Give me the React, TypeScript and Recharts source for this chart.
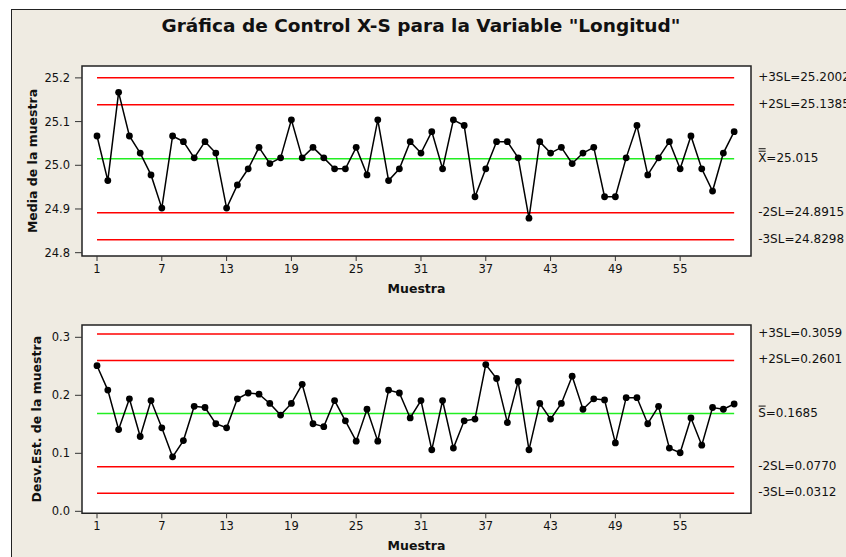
import { LineChart, Line, XAxis, YAxis, ReferenceLine, ReferenceArea, CartesianGrid } from 'recharts';

const MUESTRA = Array.from({ length: 60 }, (_, i) => i + 1);

const MEDIAS = [
  25.067, 24.965, 25.167, 25.067, 25.028, 24.978, 24.902, 25.067, 25.054, 25.017,
  25.054, 25.028, 24.902, 24.955, 24.992, 25.041, 25.004, 25.017, 25.104, 25.017,
  25.041, 25.017, 24.992, 24.992, 25.041, 24.978, 25.104, 24.965, 24.992, 25.054,
  25.028, 25.077, 24.992, 25.104, 25.091, 24.928, 24.992, 25.054, 25.054, 25.017,
  24.879, 25.054, 25.028, 25.041, 25.004, 25.028, 25.041, 24.928, 24.928, 25.017,
  25.091, 24.978, 25.017, 25.054, 24.992, 25.067, 24.992, 24.941, 25.028, 25.077,
];

const DESV = [
  0.251, 0.209, 0.141, 0.194, 0.129, 0.191, 0.144, 0.094, 0.122, 0.181,
  0.179, 0.151, 0.144, 0.194, 0.204, 0.202, 0.186, 0.166, 0.186, 0.219,
  0.151, 0.146, 0.191, 0.156, 0.121, 0.176, 0.121, 0.209, 0.204, 0.161,
  0.191, 0.106, 0.191, 0.109, 0.156, 0.159, 0.253, 0.229, 0.153, 0.224,
  0.106, 0.186, 0.159, 0.186, 0.233, 0.176, 0.194, 0.192, 0.118, 0.196,
  0.196, 0.151, 0.181, 0.109, 0.101, 0.161, 0.114, 0.179, 0.176, 0.185,
];

const X_TICKS = [1, 7, 13, 19, 25, 31, 37, 43, 49, 55];
const MEDIA_TICKS = [24.8, 24.9, 25.0, 25.1, 25.2];
const DESV_TICKS = [0.0, 0.1, 0.2, 0.3];

const MEDIA_LIMITS = [
  { name: '+3SL', value: 25.2002, text: '+3SL=25.2002' },
  { name: '+2SL', value: 25.1385, text: '+2SL=25.1385' },
  { name: 'CL', value: 25.015, text: 'X=25.015' },
  { name: '-2SL', value: 24.8915, text: '-2SL=24.8915' },
  { name: '-3SL', value: 24.8298, text: '-3SL=24.8298' },
];

const DESV_LIMITS = [
  { name: '+3SL', value: 0.3059, text: '+3SL=0.3059' },
  { name: '+2SL', value: 0.2601, text: '+2SL=0.2601' },
  { name: 'CL', value: 0.1685, text: 'S=0.1685' },
  { name: '-2SL', value: 0.077, text: '-2SL=0.0770' },
  { name: '-3SL', value: 0.0312, text: '-3SL=0.0312' },
];

const X_DOMAIN: [number, number] = [-0.39, 61.56];
const FONT = '"DejaVu Sans", Verdana, sans-serif';
const RED = '#ff0000';
const GREEN = '#22ee22';

// etiqueta a la derecha de cada límite (con barra sobre X / S en la línea central)
function LimitLabel({ viewBox, text, bars }: any) {
  if (!viewBox) return null;
  const x = viewBox.x + viewBox.width + 24;
  const y = viewBox.y - 1;
  return (
    <g>
      <text x={x} y={y} dominantBaseline="central" fontFamily={FONT} fontSize={12} fill="#111">
        {text}
      </text>
      {bars >= 1 && <line x1={x + 0.5} x2={x + 7.5} y1={y - 6.5} y2={y - 6.5} stroke="#111" strokeWidth={1} />}
      {bars >= 2 && <line x1={x + 0.5} x2={x + 7.5} y1={y - 9} y2={y - 9} stroke="#111" strokeWidth={1} />}
    </g>
  );
}

function YTitle({ viewBox, value, cx }: any) {
  if (!viewBox) return null;
  const y = viewBox.y + viewBox.height / 2;
  return (
    <text
      x={cx}
      y={y}
      transform={`rotate(-90 ${cx} ${y})`}
      textAnchor="middle"
      dominantBaseline="central"
      fontFamily={FONT}
      fontSize={12.5}
      fontWeight="bold"
      fill="#111"
    >
      {value}
    </text>
  );
}

function ControlChart({ values, limits, ticks, domain, yLabel, titleX, bars, height, xAxisHeight }: any) {
  const data = MUESTRA.map((m, i) => ({ m, v: values[i] }));
  return (
    <LineChart width={846} height={height} data={data} margin={{ top: 66, right: 95, left: 0, bottom: 0 }}>
      <CartesianGrid horizontal={false} vertical={false} fill="#fff" fillOpacity={1} />
      <XAxis
        dataKey="m"
        type="number"
        domain={X_DOMAIN}
        ticks={X_TICKS}
        interval={0}
        allowDataOverflow
        axisLine={false}
        tickSize={5}
        tickMargin={4}
        tickLine={{ stroke: '#333' }}
        tick={{ fontFamily: FONT, fontSize: 11.5, fill: '#111' }}
        height={xAxisHeight}
        label={{
          value: 'Muestra',
          position: 'insideBottom',
          offset: 7,
          style: { fontFamily: FONT, fontSize: 12.5, fontWeight: 'bold', fill: '#111' },
        }}
      />
      <YAxis
        type="number"
        domain={domain}
        ticks={ticks}
        allowDataOverflow
        width={82}
        axisLine={false}
        tickSize={7}
        tickMargin={5}
        tickLine={{ stroke: '#333' }}
        tickFormatter={(v: number) => v.toFixed(1)}
        tick={{ fontFamily: FONT, fontSize: 11.5, fill: '#111' }}
        label={<YTitle value={yLabel} cx={titleX} />}
      />
      <ReferenceArea
        x1={X_DOMAIN[0]}
        x2={X_DOMAIN[1]}
        y1={domain[0]}
        y2={domain[1]}
        fill="none"
        stroke="#222"
        strokeWidth={1.5}
        ifOverflow="visible"
      />
      {limits.map((l: any) => (
        <ReferenceLine
          key={l.name}
          segment={[{ x: 1, y: l.value }, { x: 60, y: l.value }]}
          stroke={l.name === 'CL' ? GREEN : RED}
          strokeWidth={1.5}
          ifOverflow="visible"
          label={<LimitLabel text={l.text} bars={l.name === 'CL' ? bars : 0} />}
        />
      ))}
      <Line
        type="linear"
        dataKey="v"
        stroke="#000"
        strokeWidth={1.5}
        dot={{ r: 3.4, fill: '#000', stroke: '#000', strokeWidth: 0 }}
        isAnimationActive={false}
      />
    </LineChart>
  );
}

export default function App() {
  return (
    <div style={{ position: 'absolute', left: 0, top: 0, width: 846, height: 557, background: '#fff', overflow: 'hidden' }}>
      <div
        style={{
          position: 'absolute',
          left: 11,
          top: 9,
          width: 860,
          height: 570,
          background: '#efebe2',
          borderLeft: '1.5px solid #222',
          borderTop: '1.5px solid #222',
        }}
      />
      <div
        style={{
          position: 'absolute',
          left: 0,
          top: 14,
          width: 842,
          textAlign: 'center',
          fontFamily: FONT,
          fontSize: 18.5,
          fontWeight: 'bold',
          color: '#111',
          lineHeight: '24px',
        }}
      >
        Gráfica de Control X-S para la Variable "Longitud"
      </div>
      <div style={{ position: 'absolute', left: 0, top: 0 }}>
        <ControlChart
          values={MEDIAS}
          limits={MEDIA_LIMITS}
          ticks={MEDIA_TICKS}
          domain={[24.7924, 25.2272]}
          yLabel="Media de la muestra"
          titleX={32}
          bars={2}
          height={300}
          xAxisHeight={44}
        />
      </div>
      <div style={{ position: 'absolute', left: 0, top: 259 }}>
        <ControlChart
          values={DESV}
          limits={DESV_LIMITS}
          ticks={DESV_TICKS}
          domain={[-0.0034, 0.3212]}
          yLabel="Desv.Est. de la muestra"
          titleX={37}
          bars={1}
          height={298}
          xAxisHeight={43.7}
        />
      </div>
    </div>
  );
}
